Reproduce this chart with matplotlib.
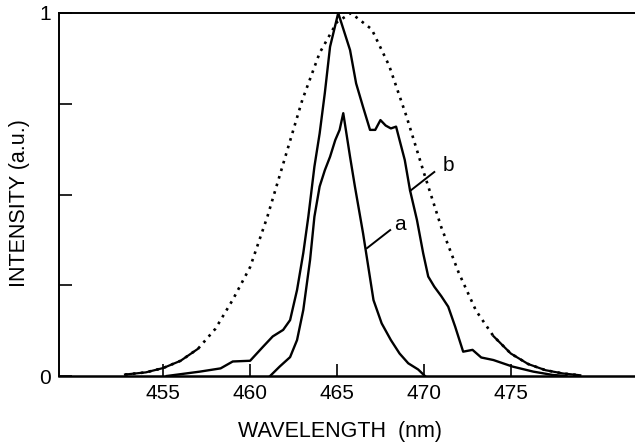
import numpy as np
import matplotlib
matplotlib.use("Agg")
import matplotlib.pyplot as plt

plt.rcParams['font.family'] = ['Liberation Sans', 'DejaVu Sans']

# dotted reference curve
ref_wl = [452.8, 454, 455, 456, 457, 458, 459, 460, 461, 462, 463, 464, 465, 465.8,
          467, 468, 469, 470, 471, 472, 473, 474, 475, 476, 477, 478, 479]
ref_int = [0.004, 0.010, 0.022, 0.042, 0.075, 0.13, 0.21, 0.30, 0.44, 0.60, 0.76, 0.89, 0.975, 1.0,
           0.955, 0.855, 0.715, 0.56, 0.41, 0.285, 0.18, 0.11, 0.062, 0.033, 0.016, 0.007, 0.002]

# curve b
b_wl = [455.2, 457.1, 458.3, 459.0, 460.0, 460.75, 461.3, 461.9, 462.3, 462.7, 463.06, 463.35,
        463.7, 464.0, 464.3, 464.6, 465.07, 465.75, 466.1, 466.5, 466.9, 467.2, 467.5, 467.8,
        468.1, 468.4, 468.6, 468.9, 469.2, 469.6, 469.96, 470.25, 470.6, 471.0, 471.4, 471.8,
        472.26, 472.8, 473.3, 474.0, 475.1, 476.3, 477.4, 478.2]
b_int = [0.0, 0.012, 0.021, 0.04, 0.042, 0.081, 0.109, 0.127, 0.154, 0.237, 0.339, 0.439,
         0.577, 0.668, 0.78, 0.907, 1.0, 0.898, 0.806, 0.741, 0.678, 0.678, 0.705, 0.69,
         0.682, 0.687, 0.65, 0.595, 0.512, 0.43, 0.338, 0.274, 0.246, 0.22, 0.191, 0.136,
         0.067, 0.072, 0.051, 0.044, 0.026, 0.012, 0.003, 0.0]

# curve a
a_wl = [461.15, 461.7, 462.3, 462.7, 463.06, 463.45, 463.7, 464.0, 464.3, 464.6, 464.9,
        465.15, 465.36, 465.75, 466.03, 466.3, 466.5, 466.8, 467.1, 467.57, 468.1, 468.6,
        469.1, 469.67, 470.06]
a_int = [0.0, 0.026, 0.052, 0.099, 0.182, 0.32, 0.439, 0.522, 0.567, 0.604, 0.65,
         0.678, 0.724, 0.604, 0.522, 0.448, 0.393, 0.301, 0.209, 0.145, 0.099, 0.062,
         0.035, 0.018, 0.0]

xticks = [455, 460, 465, 470, 475]
yticks = [0, 0.25, 0.5, 0.75, 1]
ytick_labels = ["0", "", "", "", "1"]

fig = plt.figure(figsize=(6.35, 4.42), dpi=100)
ax = fig.add_axes([59 / 635, 1 - 376 / 442, 576 / 635, 363 / 442])

ref_wl = np.array(ref_wl)
ref_int = np.array(ref_int)
ax.plot(ref_wl, ref_int, color='black', lw=1.9, linestyle=(0, (1, 2)))
# the tails of the reference curve look solid
tail = np.where(ref_int < 0.12, ref_int, np.nan)
ax.plot(ref_wl, tail, color='black', lw=1.6)

ax.plot(b_wl, b_int, color='black', lw=1.7)
ax.plot(a_wl, a_int, color='black', lw=1.7)

# labels with leader lines
ax.plot([469.21, 470.6], [0.51, 0.562], color='black', lw=1.4)
ax.text(471.4, 0.58, "b", fontsize=15, ha='center', va='center')
ax.plot([466.72, 468.06], [0.352, 0.402], color='black', lw=1.4)
ax.text(468.6, 0.418, "a", fontsize=15, ha='center', va='center')

ax.set_xlim(449.0, 482.15)
ax.set_ylim(0, 1)
ax.set_xticks(xticks)
ax.set_yticks(yticks)
ax.set_yticklabels(ytick_labels)
ax.tick_params(direction='in', length=9, width=1.2, labelsize=15, pad=6)
ax.spines['right'].set_visible(False)
ax.spines['bottom'].set_linewidth(1.8)
ax.spines['top'].set_linewidth(1.4)
ax.spines['left'].set_linewidth(1.4)

fig.text(19.5 / 635, 1 - 203.5 / 442, "INTENSITY (a.u.)", rotation=90,
         ha='center', va='center', fontsize=15.5)
fig.text(340 / 635, 1 - 431 / 442, "WAVELENGTH  (nm)", ha='center', va='center',
         fontsize=15.5)

fig.savefig("out.png", dpi=100)
